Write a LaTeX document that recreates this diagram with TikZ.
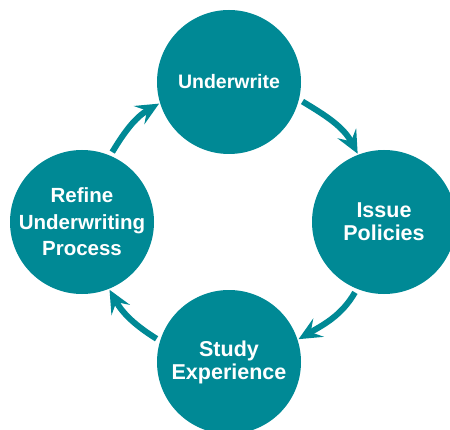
\documentclass[tikz,border=0pt]{standalone}
\usepackage{fontspec}
\setmainfont{Liberation Sans}
\usetikzlibrary{arrows.meta}
\definecolor{cycleteal}{RGB}{0,137,149}
\tikzset{
  stage/.style={circle, fill=cycleteal, minimum size=144pt, inner sep=0pt,
                text=white, align=center},
  cyclearrow/.style={line width=6pt, draw=cycleteal,
                     -{Stealth[length=23pt,width=21pt,inset=9pt]},
                     shorten <=4pt, shorten >=1pt},
}

\begin{document}
\begin{tikzpicture}[x=1pt,y=1pt]
  \useasboundingbox (0,0) rectangle (450,429);

  % the four stages of the cycle
  \node[stage, font=\bfseries\fontsize{19.5}{23}\selectfont] (underwrite) at (229,347) {Underwrite};
  \node[stage, font=\bfseries\fontsize{21.5}{23}\selectfont] (issue) at (384,207) {Issue\\Policies};
  \node[stage, font=\bfseries\fontsize{21.5}{23}\selectfont] (study) at (229,67) {Study\\Experience};
  \node[stage, font=\bfseries\fontsize{20.5}{26.5}\selectfont] (refine) at (82,207) {Refine\\Underwriting\\Process};

  % clockwise arrows
  \draw[cyclearrow] (underwrite.-14) to[out=-31, in=118] (issue.111);
  \draw[cyclearrow] (issue.-112) to[out=-120, in=30] (study.18);
  \draw[cyclearrow] (study.163) to[out=148, in=-61] (refine.-68);
  \draw[cyclearrow] (refine.67) to[out=59, in=210] (underwrite.-163);
\end{tikzpicture}
\end{document}
